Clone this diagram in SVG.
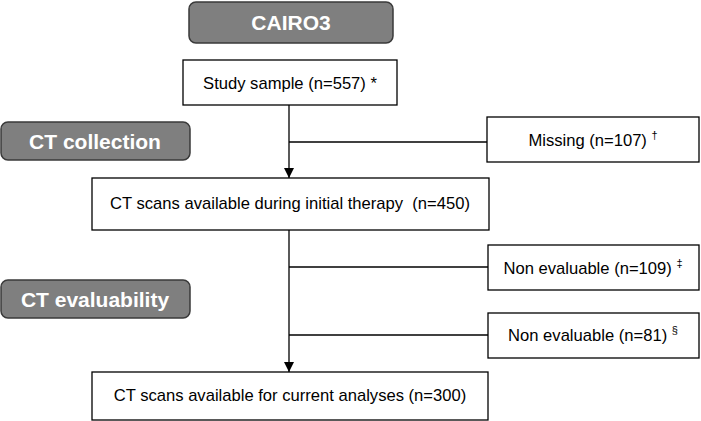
<svg xmlns="http://www.w3.org/2000/svg" width="701" height="421" viewBox="0 0 701 421">
<defs>
<style>
.hdr rect{fill:#7f7f7f;stroke:#3a3a3a;stroke-width:1.5}
.hdr text{fill:#fff;font-family:"Liberation Sans",Arial,sans-serif;font-weight:bold;font-size:21px;text-anchor:middle}
.box rect{fill:#fff;stroke:#000;stroke-width:1.3}
.box text{fill:#000;font-family:"Liberation Sans",Arial,sans-serif;font-size:16.6px;text-anchor:middle;white-space:pre}
.sup{font-size:11px}
.conn line{stroke:#000;stroke-width:1.3}
</style>
<marker id="arr" viewBox="0 0 10 10" refX="10" refY="5" markerWidth="10" markerHeight="10" markerUnits="userSpaceOnUse" orient="auto">
<path d="M0,0 L10,5 L0,10 Z" fill="#000"/>
</marker>
</defs>
<g id="cairo3" class="hdr"><rect x="189" y="2" width="204" height="41" rx="7"/><text x="291" y="30">CAIRO3</text></g>
<g id="ct-collection" class="hdr"><rect x="1" y="122" width="189" height="38" rx="7"/><text x="95" y="149">CT collection</text></g>
<g id="ct-evaluability" class="hdr"><rect x="1" y="280" width="189" height="38" rx="7"/><text x="95" y="307">CT evaluability</text></g>
<g id="study" class="box"><rect x="183" y="60" width="214" height="45"/><text x="290" y="89">Study sample (n=557) *</text></g>
<g id="missing" class="box"><rect x="487" y="117" width="212" height="45"/><text x="593" y="146">Missing (n=107) <tspan class="sup" dy="-7">†</tspan></text></g>
<g id="ct450" class="box"><rect x="92" y="178" width="397" height="52"/><text x="290" y="209">CT scans available during initial therapy&#160; (n=450)</text></g>
<g id="nonev109" class="box"><rect x="488" y="245" width="211" height="45"/><text x="593" y="274">Non evaluable (n=109) <tspan class="sup" dy="-7">‡</tspan></text></g>
<g id="nonev81" class="box"><rect x="488" y="313" width="211" height="45"/><text x="593" y="341">Non evaluable (n=81) <tspan class="sup" dy="-7">§</tspan></text></g>
<g id="ct300" class="box"><rect x="92" y="372" width="396" height="48"/><text x="290" y="401">CT scans available for current analyses (n=300)</text></g>
<g id="connectors" class="conn">
<line x1="289" y1="105" x2="289" y2="178" marker-end="url(#arr)"/>
<line x1="289" y1="142" x2="487" y2="142"/>
<line x1="289" y1="230" x2="289" y2="372" marker-end="url(#arr)"/>
<line x1="289" y1="267" x2="488" y2="267"/>
<line x1="289" y1="335" x2="488" y2="335"/>
</g>
</svg>
